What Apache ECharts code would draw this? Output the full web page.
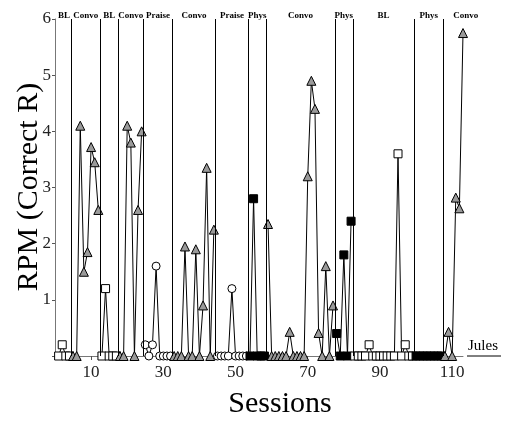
<!DOCTYPE html>
<html><head><meta charset="utf-8">
<script src="https://cdn.jsdelivr.net/npm/echarts@6/dist/echarts.min.js"></script>
<style>html,body{margin:0;padding:0;background:#fff}#c{width:505px;height:421px}</style>
</head><body><div id="c"></div>
<script>
// ---- data ----
const phaseNames  = ['BL','Convo','BL','Convo','Praise','Convo','Praise','Phys','Convo','Phys','BL','Phys','Convo'];
const phaseStarts = [1, 5, 13, 18, 25, 33, 45, 54, 59, 78, 83, 100, 108];
const blA     = [0, 0.2, 0, 0];
const convoA  = [0, 0, 4.1, 1.5, 1.85, 3.72, 3.45, 2.6];
const blB     = [0, 1.2, 0, 0, 0];
const convoB  = [0, 0, 4.1, 3.8, 0, 2.6, 4.0];
const praiseA = [0.2, 0, 0.2, 1.6, 0, 0, 0, 0];
const convoC  = [0, 0, 0, 1.95, 0, 0, 1.9, 0, 0.9, 3.35, 0, 2.25];
const praiseB = [0, 0, 0, 0, 1.2, 0, 0, 0, 0];
const physA   = [0, 2.8, 0, 0, 0];
const convoD  = [2.35, 0, 0, 0, 0, 0, 0.43, 0, 0, 0, 0, 3.2, 4.9, 4.4, 0.41, 0, 1.6, 0, 0.9];
const physB   = [0.4, 0, 1.8, 0, 2.4];
const blC     = [0, 0, 0, 0, 0.2, 0, 0, 0, 0, 0, 0, 0, 3.6, 0, 0.2, 0, 0];
const physC   = [0, 0, 0, 0, 0, 0, 0, 0];
const convoE  = [0, 0.43, 0, 2.82, 2.63, 5.75];
const phaseValues = [blA, convoA, blB, convoB, praiseA, convoC, praiseB, physA, convoD, physB, blC, physC, convoE];
const xTickValues = [10, 30, 50, 70, 90, 110];
const yTickValues = [1, 2, 3, 4, 5, 6];
const xTitle = 'Sessions';
const yTitle = 'RPM (Correct R)';
const subjectName = 'Jules';

// ---- styles ----
const markerStyle = {
  BL:     {symbol: 'rect',     size: 8, fill: '#ffffff'},
  Convo:  {symbol: 'triangle', size: 9, fill: '#9a9a9a'},
  Praise: {symbol: 'circle',   size: 8, fill: '#ffffff'},
  Phys:   {symbol: 'rect',     size: 8, fill: '#000000'}
};
const X_MAX = 113;
const serif = '"Liberation Serif", "Times New Roman", serif';

const phaseLines = phaseStarts.slice(1).map(s => ({xAxis: s - 0.5}));

const series = phaseValues.map((vals, i) => {
  const st = markerStyle[phaseNames[i]];
  const s = {
    type: 'line',
    data: vals.map((v, k) => [phaseStarts[i] + k, v]),
    symbol: st.symbol,
    symbolSize: st.size,
    showAllSymbol: true,
    itemStyle: {color: st.fill, borderColor: '#000', borderWidth: 1},
    lineStyle: {color: '#000', width: 1},
    emphasis: {disabled: true},
    z: 3
  };
  if (i === 0) {
    s.markLine = {
      silent: true, symbol: ['none', 'none'], label: {show: false},
      lineStyle: {color: '#000', width: 1, type: 'solid'},
      data: phaseLines, animation: false
    };
  }
  return s;
});

const chart = echarts.init(document.getElementById('c'), null, {renderer: 'canvas'});
chart.setOption({
  animation: false,
  backgroundColor: '#fff',
  grid: {left: 55, right: 42, top: 19, bottom: 65, containLabel: false},
  xAxis: {
    type: 'value', min: 0, max: X_MAX,
    axisLine: {show: true, lineStyle: {color: '#777', width: 1}},
    axisTick: {show: true, customValues: xTickValues, length: 4, lineStyle: {color: '#555'}},
    axisLabel: {customValues: xTickValues, color: '#222', fontFamily: serif, fontSize: 17, margin: 8},
    splitLine: {show: false}
  },
  yAxis: {
    type: 'value', min: 0, max: 6, interval: 1,
    axisLine: {show: true, lineStyle: {color: '#777', width: 1}},
    axisTick: {show: true, length: 3, lineStyle: {color: '#555'}},
    axisLabel: {color: '#222', fontFamily: serif, fontSize: 17, margin: 4,
      formatter: v => yTickValues.includes(v) ? String(v) : ''},
    splitLine: {show: false}
  },
  series: series
});

// labels / titles placed via the axes
const px = v => chart.convertToPixel({xAxisIndex: 0}, v);
const graphics = [];
phaseNames.forEach((name, i) => {
  const a = phaseStarts[i] - 0.5;
  const b = i < phaseNames.length - 1 ? phaseStarts[i + 1] - 0.5 : X_MAX + 7;
  graphics.push({
    type: 'text', x: (px(a) + px(b)) / 2, y: 16,
    style: {text: name, fontFamily: serif, fontWeight: 'bold', fontSize: 9, fill: '#000',
      textAlign: 'center', textVerticalAlign: 'middle'}
  });
});
const gridRight = px(X_MAX);
graphics.push({
  type: 'text', x: gridRight + 5, y: 354,
  style: {text: subjectName, fontFamily: serif, fontSize: 15, fill: '#000', textAlign: 'left', textVerticalAlign: 'bottom'}
});
graphics.push({
  type: 'line', shape: {x1: gridRight + 4, y1: 356, x2: gridRight + 38, y2: 356},
  style: {stroke: '#000', lineWidth: 1}
});
graphics.push({
  type: 'text', x: 280, y: 404,
  style: {text: xTitle, fontFamily: serif, fontSize: 30, fill: '#000', textAlign: 'center', textVerticalAlign: 'middle'}
});
graphics.push({
  type: 'text', x: 29, y: 187, rotation: Math.PI / 2,
  style: {text: yTitle, fontFamily: serif, fontSize: 30, fill: '#000', textAlign: 'center', textVerticalAlign: 'middle'}
});
chart.setOption({graphic: graphics});
</script>
</body></html>
